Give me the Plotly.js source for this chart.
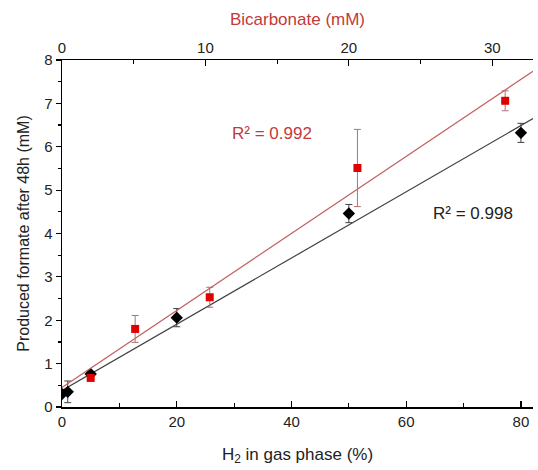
<!DOCTYPE html>
<html>
<head>
<meta charset="utf-8">
<script src="https://cdn.plot.ly/plotly-3.0.1.min.js"></script>
<style>html,body{margin:0;padding:0;background:#fff;}#chart{width:538px;height:470px;}</style>
</head>
<body>
<div id="chart"></div>
<script>
// H2 series (bottom axis, %)
var h2Pct = [0, 1, 5, 20, 50, 80];
var h2Formate = [0.30, 0.35, 0.76, 2.06, 4.46, 6.32];
var h2Err = [0.02, 0.25, 0.05, 0.21, 0.21, 0.22];

// Bicarbonate series (top axis, mM)
var bicarb = [2.0, 5.1, 10.3, 20.6, 30.9];
var bicarbFormate = [0.67, 1.80, 2.53, 5.51, 7.06];
var bicarbErr = [0.05, 0.31, 0.23, 0.89, 0.23];

// Linear fit lines (endpoints)
var h2FitX = [0, 82.1];
var h2FitY = [0.38, 6.65];
var bicarbFitX = [0, 32.84];
var bicarbFitY = [0.45, 7.74];

var r2Labels = ['R² = 0.992', 'R² = 0.998'];

var FONT = 'Liberation Sans, Arial, sans-serif';
var RED = '#e00000';
var REDLINE = '#c06060';
var REDTXT = '#c23a3a';

var traces = [
  {x: bicarbFitX, y: bicarbFitY, xaxis: 'x2', yaxis: 'y', mode: 'lines',
   line: {color: REDLINE, width: 1.2}, hoverinfo: 'skip'},
  {x: h2FitX, y: h2FitY, xaxis: 'x', yaxis: 'y', mode: 'lines',
   line: {color: '#404040', width: 1.2}, hoverinfo: 'skip'},
  {x: bicarb, y: bicarbFormate, xaxis: 'x2', yaxis: 'y', mode: 'markers',
   marker: {symbol: 'square', size: 8, color: RED},
   error_y: {type: 'data', array: bicarbErr, visible: true, color: '#b07070', thickness: 1, width: 3.5}},
  {x: h2Pct, y: h2Formate, xaxis: 'x', yaxis: 'y', mode: 'markers',
   marker: {symbol: 'diamond', size: 9.5, color: '#000'},
   error_y: {type: 'data', array: h2Err, visible: true, color: '#404040', thickness: 1, width: 3.5}}
];

var layout = {
  width: 538, height: 470,
  margin: {l: 62, r: 5, t: 60, b: 63},
  paper_bgcolor: '#fff', plot_bgcolor: '#fff',
  showlegend: false,
  font: {family: FONT, size: 14, color: '#222'},
  xaxis: {
    range: [0, 82.1], tickvals: [0, 20, 40, 60, 80],
    ticks: 'inside', ticklen: 6, tickwidth: 1.2, tickcolor: '#000',
    minor: {tickvals: [10, 30, 50, 70], ticks: 'inside', ticklen: 4, tickcolor: '#000'},
    showline: true, linecolor: '#000', linewidth: 1.5, showgrid: false, zeroline: false,
    tickfont: {family: FONT, size: 15, color: '#222'},
    title: {text: 'H<sub>2</sub> in gas phase (%)', font: {family: FONT, size: 17, color: '#222'}, standoff: 19}
  },
  xaxis2: {
    overlaying: 'x', side: 'top', anchor: 'y',
    range: [0, 32.84], tickvals: [0, 10, 20, 30],
    ticks: 'inside', ticklen: 6, tickwidth: 1.2, tickcolor: '#000',
    minor: {tickvals: [5, 15, 25], ticks: 'inside', ticklen: 4, tickcolor: '#000'},
    showline: true, linecolor: '#000', linewidth: 1.5, showgrid: false, zeroline: false,
    tickfont: {family: FONT, size: 15, color: '#222'},
    title: {text: 'Bicarbonate (mM)', font: {family: FONT, size: 17, color: REDTXT}, standoff: 8}
  },
  yaxis: {
    range: [0, 8], tickvals: [0, 1, 2, 3, 4, 5, 6, 7, 8],
    ticks: 'outside', ticklen: 5, tickwidth: 1.2, tickcolor: '#000',
    minor: {tickvals: [0.5, 1.5, 2.5, 3.5, 4.5, 5.5, 6.5, 7.5], ticks: 'outside', ticklen: 3, tickcolor: '#000'},
    showline: true, linecolor: '#000', linewidth: 1.5, showgrid: false, zeroline: false,
    tickfont: {family: FONT, size: 15, color: '#222'},
    title: {text: 'Produced formate after 48h (mM)', font: {family: FONT, size: 16, color: '#222'}, standoff: 10}
  },
  annotations: [
    {xref: 'paper', yref: 'paper', x: (272 - 62) / 471, y: (407 - 133) / 347, text: r2Labels[0],
     showarrow: false, font: {family: FONT, size: 17, color: REDTXT}, xanchor: 'center', yanchor: 'middle'},
    {xref: 'paper', yref: 'paper', x: (473 - 62) / 471, y: (407 - 213) / 347, text: r2Labels[1],
     showarrow: false, font: {family: FONT, size: 17, color: '#222'}, xanchor: 'center', yanchor: 'middle'}
  ]
};

Plotly.newPlot('chart', traces, layout, {displayModeBar: false, staticPlot: true});
</script>
</body>
</html>
